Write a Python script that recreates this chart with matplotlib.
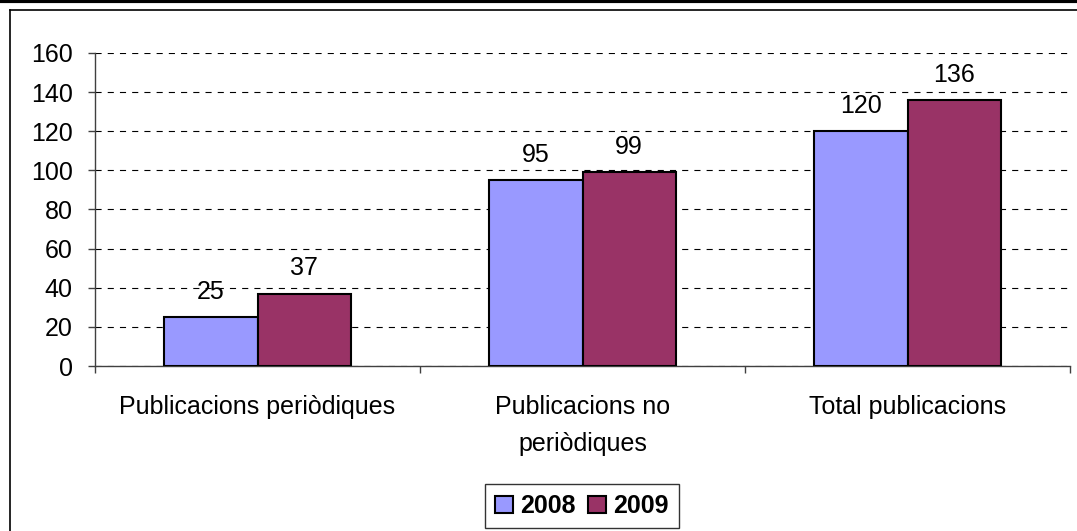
import matplotlib.pyplot as plt
import numpy as np
from matplotlib.lines import Line2D

plt.rcParams["font.family"] = ["Liberation Sans", "DejaVu Sans"]

categories = ["Publicacions periòdiques", "Publicacions no\nperiòdiques", "Total publicacions"]
years = ["2008", "2009"]
values_2008 = [25, 95, 120]
values_2009 = [37, 99, 136]
colors = ["#9999FF", "#993366"]

fig = plt.figure(figsize=(10.77, 5.31), dpi=100)
ax = fig.add_axes([95 / 1077, 1 - 366 / 531, (1070 - 95) / 1077, (366 - 53) / 531])

x = np.arange(len(categories)) + 0.5
width = 0.287
bars = []
for i, (vals, col) in enumerate(zip([values_2008, values_2009], colors)):
    offset = (i - 0.5) * width
    b = ax.bar(x + offset, vals, width, color=col, edgecolor="black", linewidth=1.5,
               label=years[i], zorder=3)
    bars.append(b)
    for xi, v in zip(x + offset, vals):
        ax.annotate(str(v), (xi, v), xytext=(0, 9.5), textcoords="offset points",
                    ha="center", va="bottom", fontsize=18)

ax.set_xlim(0, 3)
ax.set_ylim(0, 160)
ax.set_yticks(range(0, 161, 20))
ax.set_xticks(x)
ax.set_xticklabels(categories, fontsize=18, linespacing=1.65, va="top")
ax.set_xticks([0, 1, 2, 3], minor=True)
ax.tick_params(axis="x", which="major", length=0, pad=21)
ax.tick_params(axis="x", which="minor", length=5, width=1, color="#404040")
ax.tick_params(axis="y", length=5, width=1, color="#404040", labelsize=18, pad=11)
ax.yaxis.grid(True, linestyle=(0, (5.5, 5.5)), color="black", linewidth=0.8, zorder=0)
for s in ["top", "right"]:
    ax.spines[s].set_visible(False)
for s in ["left", "bottom"]:
    ax.spines[s].set_color("#404040")
    ax.spines[s].set_linewidth(1)

leg = fig.legend(handles=bars, labels=years, loc="center", bbox_to_anchor=(582 / 1077, 1 - 506 / 531),
                 ncol=2, frameon=True, fancybox=False, edgecolor="black",
                 prop={"weight": "bold", "size": 18}, handlelength=0.7, handleheight=0.7,
                 handletextpad=0.3, columnspacing=0.5, borderpad=0.4)
leg.get_frame().set_linewidth(1)

# outer frame
fig.add_artist(Line2D([0, 1], [1 - 1 / 531, 1 - 1 / 531], transform=fig.transFigure, color="black", linewidth=3))
fig.add_artist(Line2D([10 / 1077, 1], [1 - 10 / 531, 1 - 10 / 531], transform=fig.transFigure, color="black", linewidth=1.2))
fig.add_artist(Line2D([10 / 1077, 10 / 1077], [0, 1 - 10 / 531], transform=fig.transFigure, color="black", linewidth=1.2))

fig.savefig("out.png", dpi=100)
